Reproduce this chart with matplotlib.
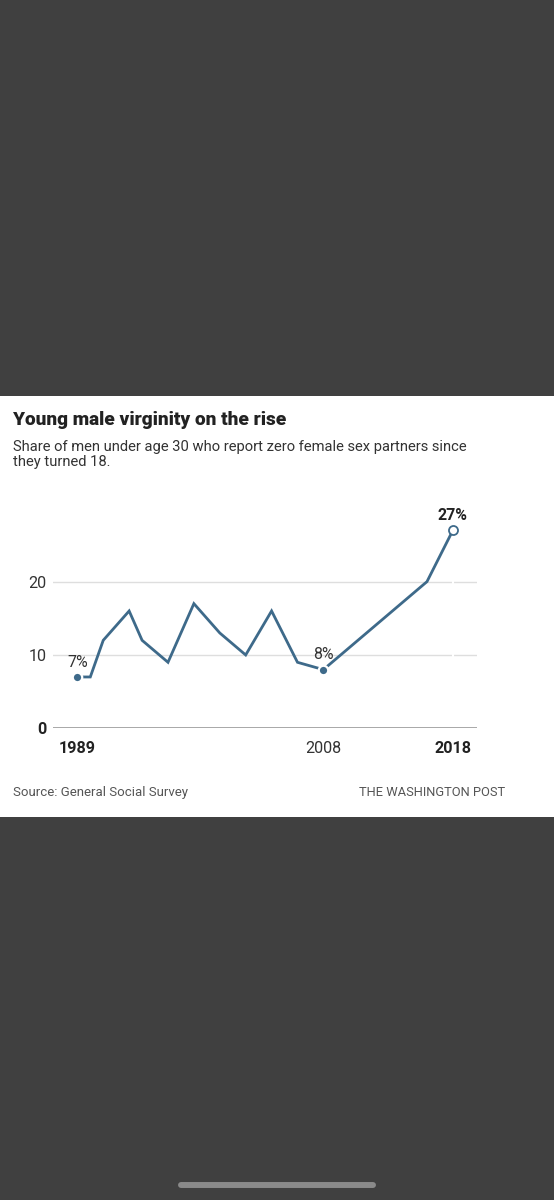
#!/usr/bin/env python3

from __future__ import annotations

import matplotlib

matplotlib.use("Agg")
import matplotlib.pyplot as plt
from matplotlib.lines import Line2D
from matplotlib.patches import Rectangle


YEARS = [1989, 1990, 1991, 1993, 1994, 1996, 1998, 2000, 2002, 2004, 2006, 2008, 2016, 2018]
SHARE = [7, 7, 12, 16, 12, 9, 17, 13, 10, 16, 9, 8, 20, 27]

Y_TICKS = [0, 10, 20]
X_TICKS = [1989, 2008, 2018]
X_TICK_LABELS = ["1989", "2008", "2018"]
X_TICK_BOLD = [True, False, True]

LABELED_YEARS = [1989, 2008, 2018]
LABELS = ["7%", "8%", "27%"]

TITLE = "Young male virginity on the rise"
SUBTITLE = [
    "Share of men under age 30 who report zero female sex partners since",
    "they turned 18.",
]
SOURCE = "Source: General Social Survey"
CREDIT = "THE WASHINGTON POST"

W, H = 554, 1200
BG = "#404040"
LINE = "#3e6a8a"
FONT = ["Roboto", "DejaVu Sans"]


def fx(x: float) -> float:
    return x / W


def fy(y: float) -> float:
    return 1 - y / H


def main() -> int:
    plt.rcParams["font.family"] = FONT
    fig = plt.figure(figsize=(W / 100, H / 100), dpi=100, facecolor=BG)

    # white card, kept under the axes
    fig.patches.append(Rectangle((0, fy(817)), 1, (817 - 396.5) / H,
                                 transform=fig.transFigure, facecolor="white",
                                 edgecolor="none", zorder=-5))

    fig.text(fx(13), fy(425), TITLE, fontsize=13.7, fontweight=900,
             color="#222222", va="baseline", ha="left")
    fig.text(fx(13), fy(450.5), SUBTITLE[0], fontsize=10.6,
             color="#333333", va="baseline", ha="left")
    fig.text(fx(13), fy(466), SUBTITLE[1], fontsize=10.6,
             color="#333333", va="baseline", ha="left")

    # axes: y=0 at px 728.3, 10 units = 73.33 px
    x0, x1 = 1987.12, 2019.84
    ax_left, ax_right = 53, 476.7
    ax_bottom = 728.3
    ax_top = ax_bottom - 30 * 7.333
    ax = fig.add_axes([fx(ax_left), fy(ax_bottom), (ax_right - ax_left) / W,
                       (ax_bottom - ax_top) / H])
    ax.set_facecolor("none")
    ax.set_xlim(x0, x1)
    ax.set_ylim(0, 30)
    for s in ax.spines.values():
        s.set_visible(False)

    for v in Y_TICKS:
        if v == 0:
            ax.axhline(v, color="#9a9a9a", lw=1.2, zorder=1)
        else:
            ax.axhline(v, color="#dedede", lw=1.0, zorder=1)
    # small break in gridlines under the last point
    ax.add_line(Line2D([2018, 2018], [1, 23], color="white", lw=1.5, zorder=1.5))

    ax.plot(YEARS, SHARE, color=LINE, lw=2.0, solid_joinstyle="miter",
            solid_capstyle="butt", zorder=3)

    for yr, lab in zip(LABELED_YEARS, LABELS):
        val = SHARE[YEARS.index(yr)]
        last = yr == YEARS[-1]
        ax.plot([yr], [val], marker="o", ms=6.5 if last else 6.8,
                mfc="white" if last else LINE,
                mec=LINE if last else "white",
                mew=1.3 if last else 1.6, zorder=4, clip_on=False)
        ax.annotate(lab, (yr, val), xytext=(0, 7.5), textcoords="offset points",
                    ha="center", va="baseline", fontsize=11.4,
                    fontweight="bold" if last else "normal",
                    color="#222222" if last else "#333333", zorder=5)

    ax.set_yticks(Y_TICKS)
    ax.set_yticklabels([str(v) for v in Y_TICKS])
    ax.tick_params(axis="y", length=0, pad=4.5, labelsize=11.6, labelcolor="#333333")
    for lab, v in zip(ax.get_yticklabels(), Y_TICKS):
        if v == 0:
            lab.set_fontweight("bold")
            lab.set_color("#222222")

    ax.set_xticks(X_TICKS)
    ax.set_xticklabels(X_TICK_LABELS)
    ax.tick_params(axis="x", length=0, pad=9.3, labelsize=11.6, labelcolor="#333333")
    for lab, bold in zip(ax.get_xticklabels(), X_TICK_BOLD):
        if bold:
            lab.set_fontweight("bold")
            lab.set_color("#222222")

    fig.text(fx(13), fy(796), SOURCE, fontsize=9.5, color="#555555",
             va="baseline", ha="left")
    fig.text(fx(505.5), fy(796), CREDIT, fontsize=9.3, color="#555555",
             va="baseline", ha="right")

    # home indicator
    fig.add_artist(Line2D([fx(181), fx(373)], [fy(1185), fy(1185)],
                          transform=fig.transFigure, color="#8a8a8a",
                          lw=4.3, solid_capstyle="round"))

    fig.savefig("out.png", dpi=100, facecolor=BG)
    plt.close(fig)
    return 0


if __name__ == "__main__":
    raise SystemExit(main())
